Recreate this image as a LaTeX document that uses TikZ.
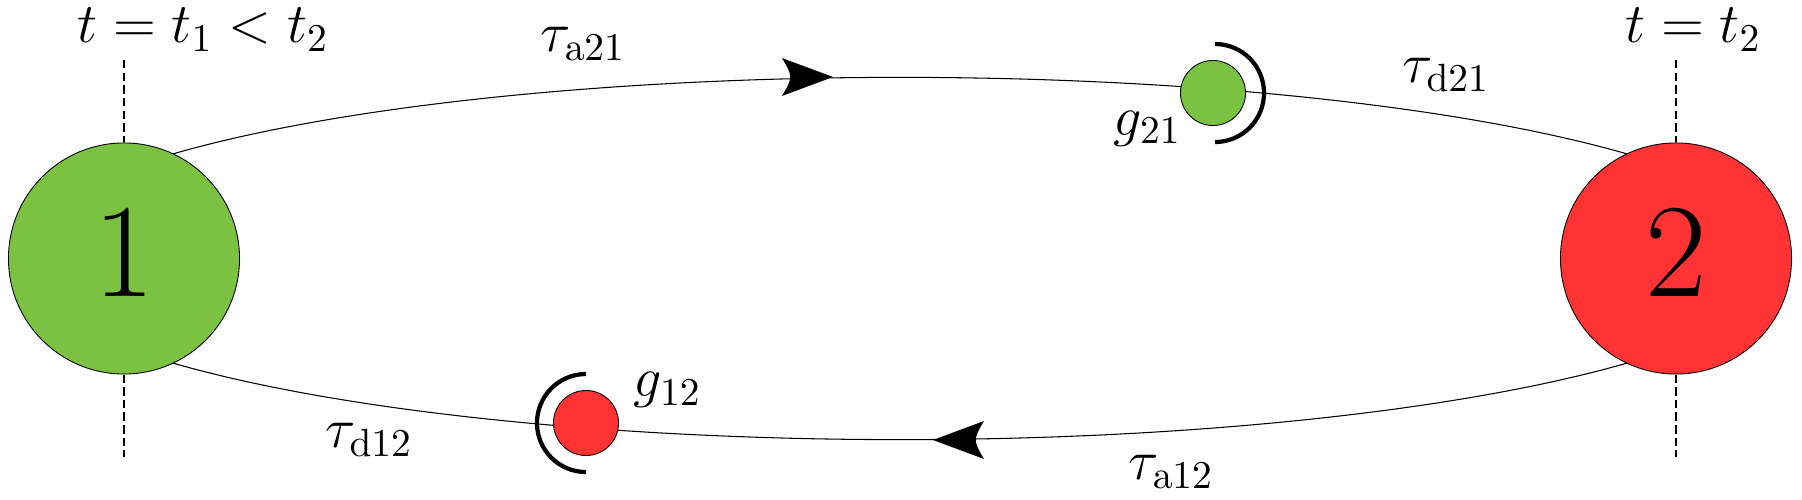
\RequirePackage{fix-cm}
\documentclass[tikz,border=0pt]{standalone}
\usetikzlibrary{calc,backgrounds}
\definecolor{ngreen}{RGB}{123,193,66}
\definecolor{nred}{RGB}{255,51,51}
\begin{document}
\begin{tikzpicture}[x=0.01cm,y=0.01cm,
  bignode/.style={circle, draw=black, line width=0.25pt, inner sep=0pt, minimum size=2.31cm, font=\fontsize{38}{40}\selectfont, text depth=3.4pt},
  smallnode/.style={circle, draw=black, line width=0.25pt, inner sep=0pt, minimum size=0.65cm},
  lbl/.style={inner sep=0pt, anchor=base west, font=\fontsize{16}{19}\selectfont},
  orbit/.style={line width=0.3pt},
  guide/.style={dash pattern=on 2.4pt off 1.2pt, line width=0.35pt},
  shield/.style={line width=1.2pt},
  ahead/.pic={\fill (0,0) -- (-51,19) .. controls (-40,0) .. (-51,-19) -- cycle;}
]
\useasboundingbox (0,0) rectangle (1802,500);
\node[bignode, fill=ngreen] (n1) at (124,241.5) {1};
\node[bignode, fill=nred] (n2) at (1676,241.5) {2};
\coordinate (O) at ($(n1)!0.5!(n2)$);
\node[smallnode, fill=ngreen] (g21) at (1213,407) {};
\node[smallnode, fill=nred] (g12) at (586,77) {};
\begin{scope}[on background layer]
\draw[orbit] (O) ++(150:8.9cm and 1.81cm) arc[start angle=150,end angle=30,x radius=8.9cm,y radius=1.81cm];
\draw[orbit] (O) ++(210:8.9cm and 1.81cm) arc[start angle=210,end angle=330,x radius=8.9cm,y radius=1.81cm];
\end{scope}
\draw[shield] ($(g21)+(2,49)$) arc[start angle=90,end angle=-90,radius=0.49cm];
\draw[shield] ($(g12)+(0,49)$) arc[start angle=90,end angle=270,radius=0.49cm];
\coordinate (t1top) at (124,440);
\coordinate (t1bot) at (124,43);
\coordinate (t2top) at (1676,440);
\coordinate (t2bot) at (1676,43);
\draw[guide] (t1top) -- (n1.north);
\draw[guide] (n1.south) -- (t1bot);
\draw[guide] (t2top) -- (n2.north);
\draw[guide] (n2.south) -- (t2bot);
\pic at (833,423) {ahead};
\pic[rotate=180] at (933,60) {ahead};
\node[lbl] (lt1) at (77,457) {$t=t_1<t_2$};
\node[lbl] (lt2) at (1625,457) {$t=t_2$};
\node[lbl] (la21) at (540,448) {$\tau_{\mathrm{a}21}$};
\node[lbl] (ld21) at (1402,417) {$\tau_{\mathrm{d}21}$};
\node[lbl] (ld12) at (325,52) {$\tau_{\mathrm{d}12}$};
\node[lbl] (la12) at (1128,20) {$\tau_{\mathrm{a}12}$};
\node[lbl] (lg21) at (1113,364.5) {$g_{21}$};
\node[lbl] (lg12) at (633,103) {$g_{12}$};
\end{tikzpicture}
\end{document}
